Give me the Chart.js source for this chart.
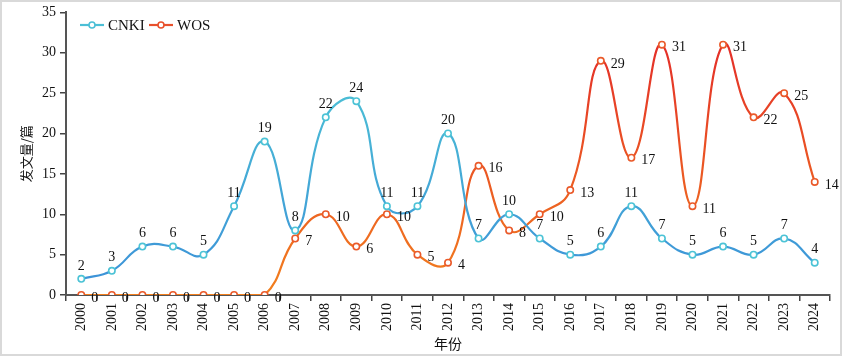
<!DOCTYPE html>
<html><head><meta charset="utf-8">
<script src="https://cdn.jsdelivr.net/npm/chart.js@4"></script>
<style>html,body{margin:0;padding:0;background:#fff;}#wrap{width:842px;height:356px;position:relative;}</style>
</head><body><div id="wrap"><canvas id="c" width="842" height="356"></canvas></div>
<script>
const years = ["2000","2001","2002","2003","2004","2005","2006","2007","2008","2009","2010","2011","2012","2013","2014","2015","2016","2017","2018","2019","2020","2021","2022","2023","2024"];
const cnki = [2,3,6,6,5,11,19,8,22,24,11,11,20,7,10,7,5,6,11,7,5,6,5,7,4];
const wos = [0,0,0,0,0,0,0,7,10,6,10,5,4,16,8,10,13,29,17,31,11,31,22,25,14];
const yTicks = [0,5,10,15,20,25,30,35];
const seriesNames = ["CNKI","WOS"];

const SERIF = "'Liberation Serif','Times New Roman',serif";

function grad(ctx, chartArea, cBottom, cTop){
  const g = ctx.createLinearGradient(0, chartArea.bottom, 0, chartArea.top);
  g.addColorStop(0, cBottom); g.addColorStop(1, cTop); return g;
}

const frame = {
  id:'frame',
  beforeDraw(chart){
    const c = chart.ctx; c.save(); c.fillStyle='#fff'; c.fillRect(0,0,chart.width,chart.height);
    c.strokeStyle='#d9d9d9'; c.lineWidth=2; c.strokeRect(1,1,chart.width-2,chart.height-2); c.restore();
  },
  afterDraw(chart){
    const c = chart.ctx; c.save();
    const items=[{n:seriesNames[0],col:'#4cbfd6',x:80},{n:seriesNames[1],col:'#e8502c',x:149}];
    c.font="15px "+SERIF; c.textBaseline='middle'; c.fillStyle='#111';
    items.forEach(it=>{
      const y=25;
      c.strokeStyle=it.col; c.lineWidth=2.2; c.beginPath(); c.moveTo(it.x,y); c.lineTo(it.x+24,y); c.stroke();
      c.beginPath(); c.arc(it.x+12,y,3,0,Math.PI*2); c.fillStyle='#fff'; c.fill(); c.lineWidth=1.6; c.stroke();
      c.fillStyle='#111'; c.textAlign='left'; c.fillText(it.n,it.x+28,y+1);
    });
    c.font="14px "+SERIF; c.fillStyle='#111';
    const m0=chart.getDatasetMeta(0), m1=chart.getDatasetMeta(1);
    m0.data.forEach((p,i)=>{ c.textAlign='center'; c.textBaseline='bottom'; c.fillText(String(cnki[i]),p.x,p.y-6); });
    m1.data.forEach((p,i)=>{ c.textAlign='left'; c.textBaseline='middle'; c.fillText(String(wos[i]),p.x+10,p.y+3); });
    c.restore();
  }
};

new Chart(document.getElementById('c'),{
  type:'line',
  data:{labels:years,datasets:[
    {label:seriesNames[0],data:cnki,
     borderColor:(ctx)=>{const a=ctx.chart.chartArea; if(!a) return '#4cbfd6'; return grad(ctx.chart.ctx,a,'#3b8fd8','#52d0d4');},
     pointBorderColor:'#4cc3d6',pointBackgroundColor:'#fff',pointRadius:3.2,pointBorderWidth:1.6,borderWidth:2.2,tension:0.45,pointHoverRadius:3.2},
    {label:seriesNames[1],data:wos,
     borderColor:(ctx)=>{const a=ctx.chart.chartArea; if(!a) return '#e8502c'; return grad(ctx.chart.ctx,a,'#f2801e','#e2242a');},
     pointBorderColor:'#ea5a2a',pointBackgroundColor:'#fff',pointRadius:3.2,pointBorderWidth:1.6,borderWidth:2.2,tension:0.45,pointHoverRadius:3.2}
  ]},
  options:{
    responsive:false,animation:false,devicePixelRatio:1,
    layout:{padding:{top:12,right:12,left:18,bottom:4}},
    plugins:{legend:{display:false},tooltip:{enabled:false}},
    scales:{
      x:{offset:true,
        grid:{offset:true,drawOnChartArea:false,drawTicks:true,tickLength:6,color:'#444',lineWidth:1.5},
        border:{display:true,color:'#555',width:2},
        ticks:{maxRotation:90,minRotation:90,autoSkip:false,color:'#111',font:{family:SERIF,size:14},padding:2},
        title:{display:true,text:'年份',color:'#111',font:{family:"'Noto Sans CJK SC',sans-serif",size:14},padding:{top:0,bottom:0}},
        afterFit(s){s.height=57;}
      },
      y:{min:0,max:35,
        afterBuildTicks(s){s.ticks=yTicks.map(v=>({value:v}));},
        grid:{drawOnChartArea:false,drawTicks:true,tickLength:6,color:'#444',lineWidth:1.5},
        border:{display:true,color:'#555',width:2},
        ticks:{color:'#111',font:{family:SERIF,size:14},padding:4},
        title:{display:true,text:'发文量/篇',color:'#111',font:{family:"'Noto Sans CJK SC',sans-serif",size:13},padding:{top:0,bottom:6}},
        afterFit(s){s.width=48;}
      }
    }
  },
  plugins:[frame]
});
</script></body></html>
